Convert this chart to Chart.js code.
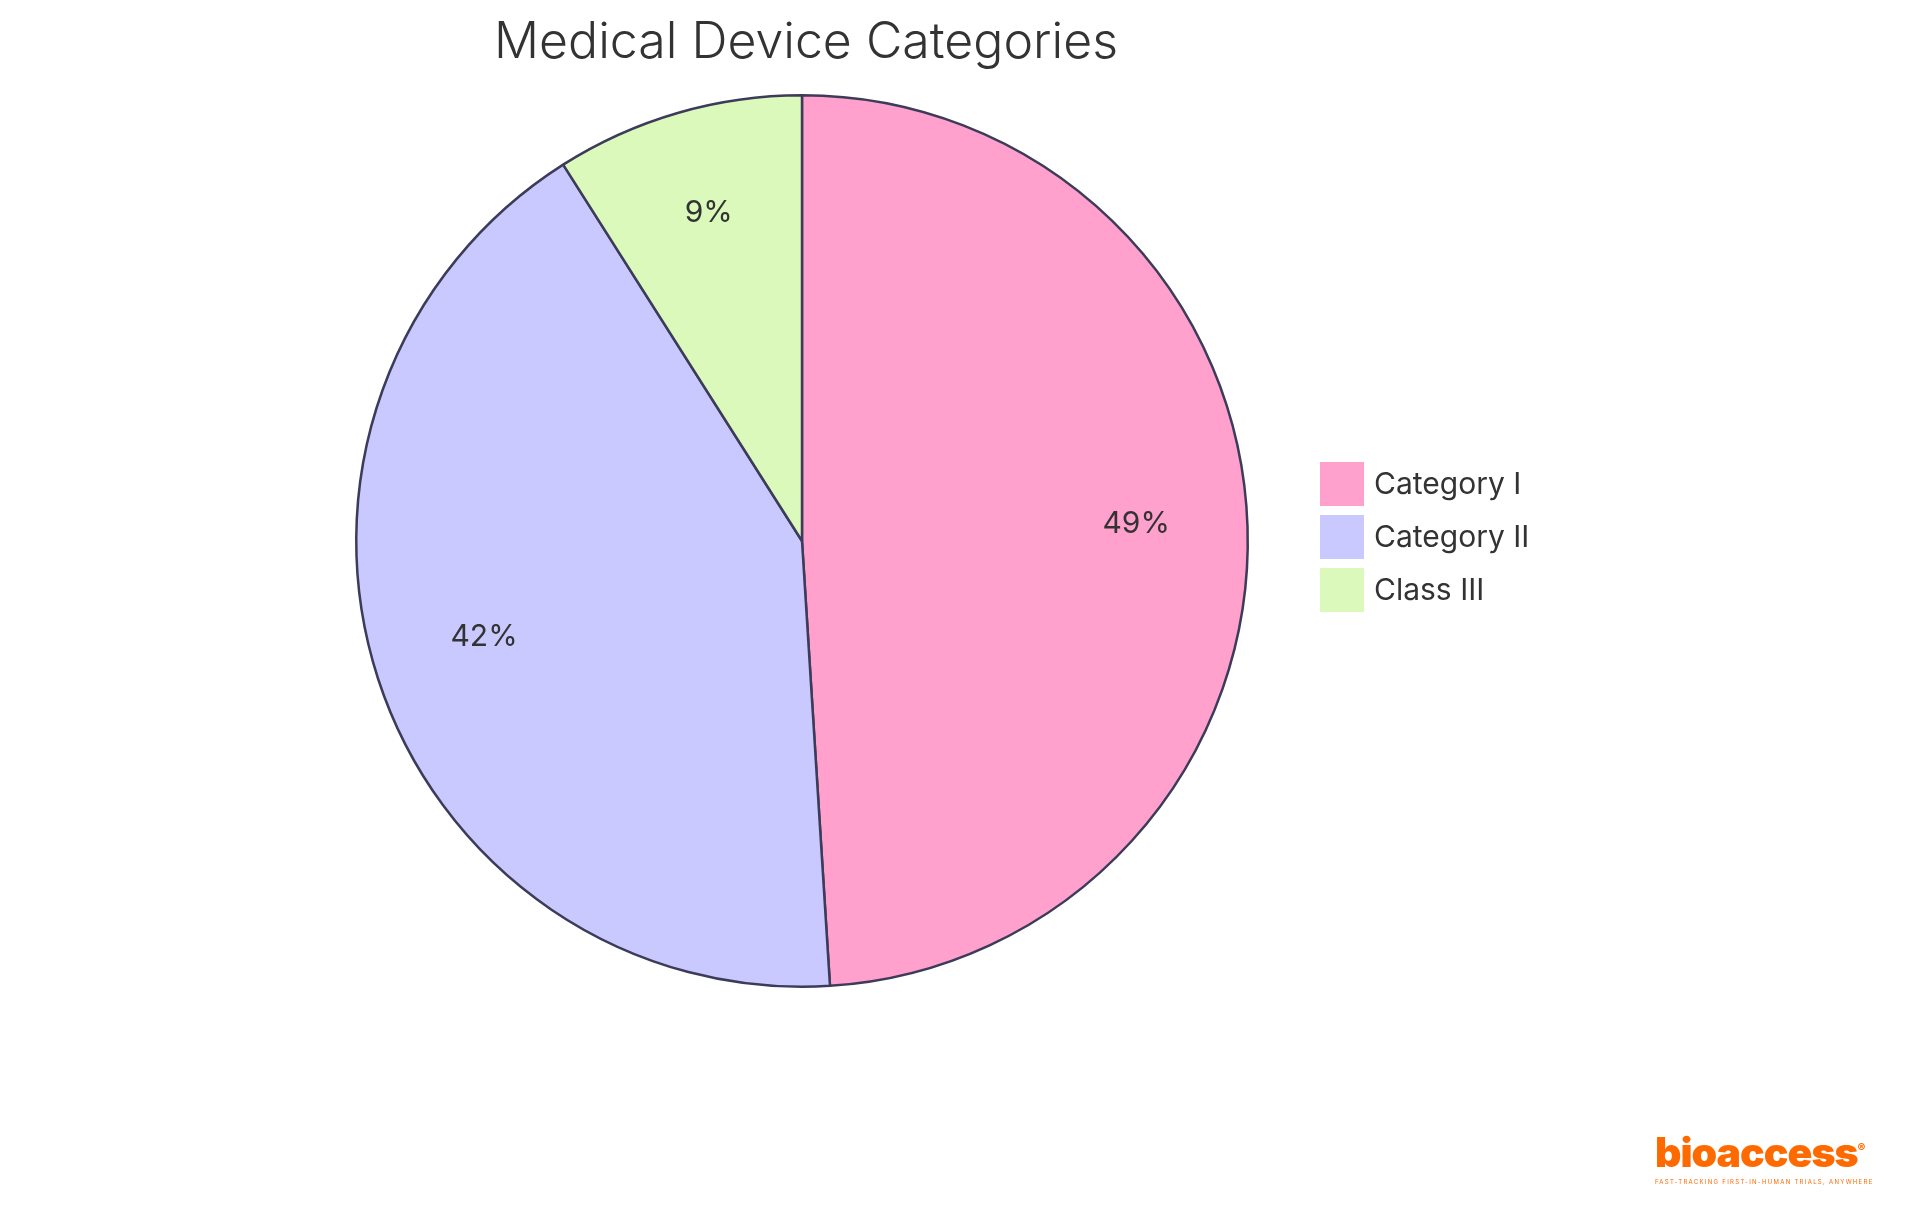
<!DOCTYPE html>
<html><head><meta charset="utf-8">
<script src="https://cdn.jsdelivr.net/npm/chart.js@4"></script>
<style>html,body{margin:0;background:#fff;width:1920px;height:1215px;overflow:hidden}
#wrap{position:absolute;left:0;top:0;width:1920px;height:1215px}
#logo{position:absolute;left:1655px;top:1132px;font-family:Inter,sans-serif;font-weight:900;color:#ff6a00;font-size:41px;letter-spacing:-1px;line-height:1;white-space:nowrap}
#logo small{display:block;font-size:6px;font-weight:400;letter-spacing:1.3px;margin-top:6px}
</style></head><body>
<div id="wrap"><canvas id="c" width="1920" height="1215"></canvas></div>
<div id="logo">bioaccess<sup style="font-size:12px">®</sup><small>FAST-TRACKING FIRST-IN-HUMAN TRIALS, ANYWHERE</small></div>
<script>
const categories=["Category I","Category II","Class III"];
const values=[49,42,9];
const colors=["#FFA0CD","#C9C9FF","#DCF9BC"];
const title="Medical Device Categories";
const font="Inter, 'Open Sans', sans-serif";
const plug={id:'p',afterDraw(ch){
 const c=ch.ctx;const m=ch.getDatasetMeta(0);const tot=values.reduce((a,b)=>a+b,0);
 c.save();c.fillStyle="#333";c.textAlign="center";c.textBaseline="middle";
 c.font="30px "+font;
 m.data.forEach((a,i)=>{const ang=(a.startAngle+a.endAngle)/2;const r=a.outerRadius*0.75;
  c.fillText(Math.round(values[i]/tot*100)+"%",a.x+Math.cos(ang)*r,a.y+Math.sin(ang)*r-7);});
 c.font="300 50px "+font;c.fillText(title,806,43);
 c.textAlign="left";c.font="30px "+font;
 categories.forEach((n,i)=>{const y=484+i*53;c.fillStyle=colors[i];c.fillRect(1320,y-22,44,44);
  c.fillStyle="#333";c.fillText(n,1374,y+1);});
 c.restore();}};
new Chart(document.getElementById('c'),{type:'pie',
 data:{labels:categories,datasets:[{data:values,backgroundColor:colors,borderColor:"#3c3c5a",borderWidth:2.5}]},
 options:{responsive:false,animation:false,layout:{padding:{left:355,right:671,top:94,bottom:227}},
  plugins:{legend:{display:false},tooltip:{enabled:false}}},plugins:[plug]});
</script></body></html>
